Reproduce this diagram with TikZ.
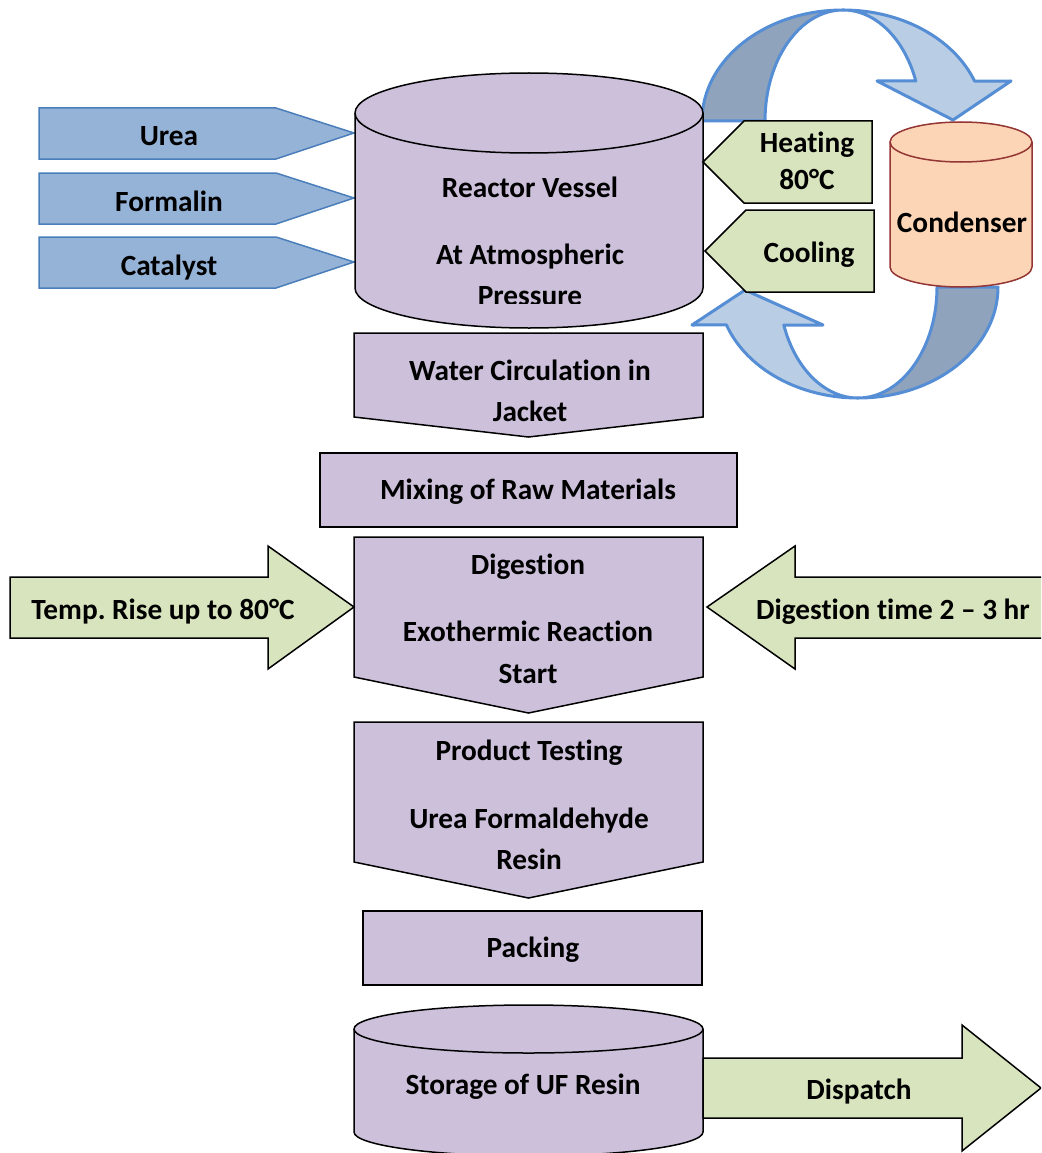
\documentclass[tikz,border=0pt]{standalone}
\usepackage{fontspec}
\setmainfont{Carlito}[Ligatures=NoCommon]
\definecolor{purpfill}{HTML}{CCC0DA}
\definecolor{bluefill}{HTML}{95B3D7}
\definecolor{blueline}{HTML}{4A7EBB}
\definecolor{greenfill}{HTML}{D7E4BD}
\definecolor{condfill}{HTML}{FBD5B5}
\definecolor{condline}{HTML}{943634}
\definecolor{ribdark}{HTML}{8FA3BC}
\definecolor{riblight}{HTML}{B9CDE5}
\definecolor{ribline}{HTML}{558ED5}
\begin{document}
\frenchspacing
\begin{tikzpicture}[x=1pt,y=-1pt,
  lbl/.style={font=\fontsize{29.3}{34}\selectfont\bfseries, anchor=base, inner sep=0pt},
  purp/.style={fill=purpfill, draw=black, line width=1.5pt},
  bluearr/.style={fill=bluefill, draw=blueline, line width=1.5pt},
  greenarr/.style={fill=greenfill, draw=black, line width=1.5pt},
  cond/.style={fill=condfill, draw=condline, line width=1.5pt},
  ribdarkst/.style={fill=ribdark, draw=ribline, line width=3pt, line join=round},
  riblightst/.style={fill=riblight, draw=ribline, line width=3pt, line join=round},
]
\useasboundingbox (0,0) rectangle (1041,1153);
\clip (0,0) rectangle (1041,1153);

% circulation ribbons
\path[ribdarkst] (702,121) arc[start angle=180,end angle=270,x radius=141,y radius=111]
  arc[start angle=270,end angle=180,x radius=78,y radius=111] -- cycle;
\path[riblightst] (843,10) arc[start angle=270,end angle=338.9,x radius=141,y radius=111]
  -- (1011,81) -- (953,120) -- (877,81) -- (915.8,81)
  arc[start angle=338.9,end angle=270,x radius=78,y radius=111] -- cycle;
\path[ribdarkst] (998,287) arc[start angle=0,end angle=90,x radius=140,y radius=111]
  arc[start angle=90,end angle=0,x radius=79,y radius=111] -- cycle;
\path[riblightst] (858,398) arc[start angle=90,end angle=160,x radius=140,y radius=111]
  -- (692,325) -- (745,290) -- (823,325) -- (783.8,325)
  arc[start angle=160,end angle=90,x radius=79,y radius=111] -- cycle;

% input arrows
\path[bluearr] (39,108) -- (276,108) -- (354,133) -- (276,159) -- (39,159) -- cycle;
\path[bluearr] (39,173) -- (276,173) -- (354,198) -- (276,224) -- (39,224) -- cycle;
\path[bluearr] (39,237) -- (276,237) -- (354,262) -- (276,288) -- (39,288) -- cycle;
\node[lbl] (urea) at (169,146) {Urea};
\node[lbl] (formalin) at (169,211) {Formalin};
\node[lbl] (catalyst) at (169,275) {Catalyst};

% reactor
\path[purp] (355,113) -- (355,288) arc[start angle=180,end angle=0,x radius=174,y radius=40]
  -- (703,113) arc[start angle=0,end angle=-180,x radius=174,y radius=40] -- cycle;
\draw[line width=1.5pt] (355,113) arc[start angle=180,end angle=0,x radius=174,y radius=40];
\node[lbl] (rv) at (530,197) {Reactor Vessel};
\node[lbl] (atm) at (530,264) {At Atmospheric};
\begin{scope}
\clip (355,280) rectangle (703,303);
\node[lbl] (press) at (530,305) {Pressure};
\end{scope}

% heating / cooling
\path[greenarr] (703,162) -- (744,121) -- (872,121) -- (872,203) -- (744,203) -- cycle;
\path[greenarr] (705,251) -- (746,210) -- (874,210) -- (874,292) -- (746,292) -- cycle;
\node[lbl] (heat) at (807,153) {Heating};
\node[lbl] (temp80) at (807,189) {80°C};
\node[lbl] (cool) at (809,262) {Cooling};

% condenser
\path[cond] (890,142) -- (890,267) arc[start angle=180,end angle=0,x radius=71,y radius=20]
  -- (1032,142) arc[start angle=0,end angle=-180,x radius=71,y radius=20] -- cycle;
\draw[condline,line width=1.5pt] (890,142) arc[start angle=180,end angle=0,x radius=71,y radius=20];
\node[lbl] (condenser) at (962,232) {Condenser};

% water circulation
\path[purp] (354,333) -- (703,333) -- (703,417) -- (528.5,437) -- (354,417) -- cycle;
\node[lbl] (wc) at (530,380) {Water Circulation in};
\node[lbl] (jacket) at (530,421) {Jacket};

% mixing
\path[purp] (320,453) rectangle (737,527);
\node[lbl] (mix) at (528,499) {Mixing of Raw Materials};

% digestion
\path[purp] (354,537) -- (703,537) -- (703,677) -- (528.5,713) -- (354,677) -- cycle;
\node[lbl] (dig) at (528,574) {Digestion};
\node[lbl] (exo) at (528,641) {Exothermic Reaction};
\node[lbl] (start) at (528,683) {Start};

% side arrows
\path[greenarr] (10,577) -- (268,577) -- (268,546) -- (354,607) -- (268,669) -- (268,638) -- (10,638) -- cycle;
\node[lbl] (trise) at (163,619) {Temp. Rise up to 80°C};
\path[greenarr] (1050,577) -- (795,577) -- (795,546) -- (707,607) -- (795,669) -- (795,638) -- (1050,638) -- cycle;
\node[lbl] (dtime) at (893,619) {Digestion time 2 – 3 hr};

% product testing
\path[purp] (354,722) -- (703,722) -- (703,862) -- (528.5,898) -- (354,862) -- cycle;
\node[lbl] (pt) at (529,760) {Product Testing};
\node[lbl] (ufr) at (529,828) {Urea Formaldehyde};
\node[lbl] (resin) at (529,869) {Resin};

% packing
\path[purp] (363,911) rectangle (702,985);
\begin{scope}
\clip (363,911) rectangle (702,962);
\node[lbl] (pack) at (533,957) {Packing};
\end{scope}

% storage
\path[purp] (354,1029) -- (354,1132) arc[start angle=180,end angle=0,x radius=174.5,y radius=24]
  -- (703,1029) arc[start angle=0,end angle=-180,x radius=174.5,y radius=24] -- cycle;
\draw[line width=1.5pt] (354,1029) arc[start angle=180,end angle=0,x radius=174.5,y radius=24];
\node[lbl] (store) at (523,1094) {Storage of UF Resin};

% dispatch
\path[greenarr] (703,1058) -- (962,1058) -- (962,1025) -- (1041,1088) -- (962,1151) -- (962,1118) -- (703,1118) -- cycle;
\node[lbl] (disp) at (859,1099) {Dispatch};
\end{tikzpicture}
\end{document}
